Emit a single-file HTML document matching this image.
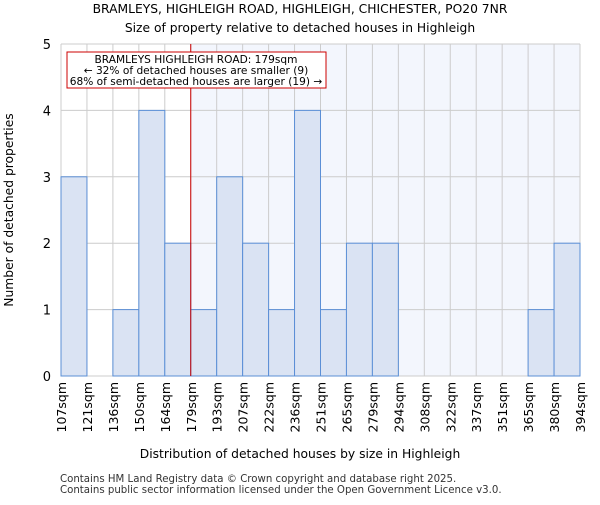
<!DOCTYPE html>
<html><head><meta charset="utf-8"><style>body{margin:0;background:#fff}svg{font-family:"DejaVu Sans","Liberation Sans",sans-serif}</style></head><body>
<svg id="c" width="600" height="500"></svg>
<script>
const categories=["107sqm","121sqm","136sqm","150sqm","164sqm","179sqm","193sqm","207sqm","222sqm","236sqm","251sqm","265sqm","279sqm","294sqm","308sqm","322sqm","337sqm","351sqm","365sqm","380sqm","394sqm"];
const counts=[3,0,1,4,2,1,3,2,1,4,1,2,2,0,0,0,0,0,1,2];
const yTicks=[0,1,2,3,4,5];
const markerIndex=5;
const NS="http://www.w3.org/2000/svg",svg=document.getElementById("c");
const L=61,R=580,T=44,B=376,bw=(R-L)/counts.length;
const x=i=>L+i*bw, y=v=>B-(v/5)*(B-T);
function el(t,a,txt){const e=document.createElementNS(NS,t);for(const k in a)e.setAttribute(k,a[k]);if(txt!=null)e.textContent=txt;svg.appendChild(e);return e;}
let e;
e=el("rect",{x:x(markerIndex),y:T,width:R-x(markerIndex),height:B-T,fill:"#f3f6fd"});

for(let i=0;i<=counts.length;i++){el("line",{x1:x(i),x2:x(i),y1:T,y2:B,stroke:"#ccc","stroke-width":1});}
yTicks.forEach(v=>{el("line",{x1:L,x2:R,y1:y(v),y2:y(v),stroke:"#ccc","stroke-width":1});
e=el("text",{x:L-10,y:y(v)+5,"text-anchor":"end","font-size":13},v);
});
counts.forEach((c,i)=>{if(!c)return;e=el("rect",{x:x(i),y:y(c),width:bw,height:B-y(c),fill:"#dae3f3",stroke:"#5b8fd6","stroke-width":1});
});
categories.forEach((c,i)=>{e=el("text",{transform:`translate(${x(i)+5},${B+6}) rotate(-90)`,"text-anchor":"end","font-size":12.5},c);
});
e=el("line",{x1:x(markerIndex),x2:x(markerIndex),y1:T,y2:B,stroke:"#c00","stroke-width":1});

e=el("rect",{x:67,y:52,width:259,height:36,fill:"#fff",stroke:"#c00","stroke-width":1});

[["BRAMLEYS HIGHLEIGH ROAD: 179sqm",63],["← 32% of detached houses are smaller (9)",74],["68% of semi-detached houses are larger (19) →",85]].forEach(([t,yy])=>{e=el("text",{x:196,y:yy,"text-anchor":"middle","font-size":10.6},t);
});
e=el("text",{x:300,y:13,"text-anchor":"middle","font-size":12.3},"BRAMLEYS, HIGHLEIGH ROAD, HIGHLEIGH, CHICHESTER, PO20 7NR");

e=el("text",{x:300,y:32,"text-anchor":"middle","font-size":12.3},"Size of property relative to detached houses in Highleigh");

e=el("text",{x:300,y:458,"text-anchor":"middle","font-size":12.3},"Distribution of detached houses by size in Highleigh");

e=el("text",{transform:"translate(13,210) rotate(-90)","text-anchor":"middle","font-size":12.3},"Number of detached properties");

e=el("text",{x:60,y:482,"font-size":10.2,fill:"#333"},"Contains HM Land Registry data © Crown copyright and database right 2025.");

e=el("text",{x:60,y:493,"font-size":10.2,fill:"#333"},"Contains public sector information licensed under the Open Government Licence v3.0.");

</script></body></html>
